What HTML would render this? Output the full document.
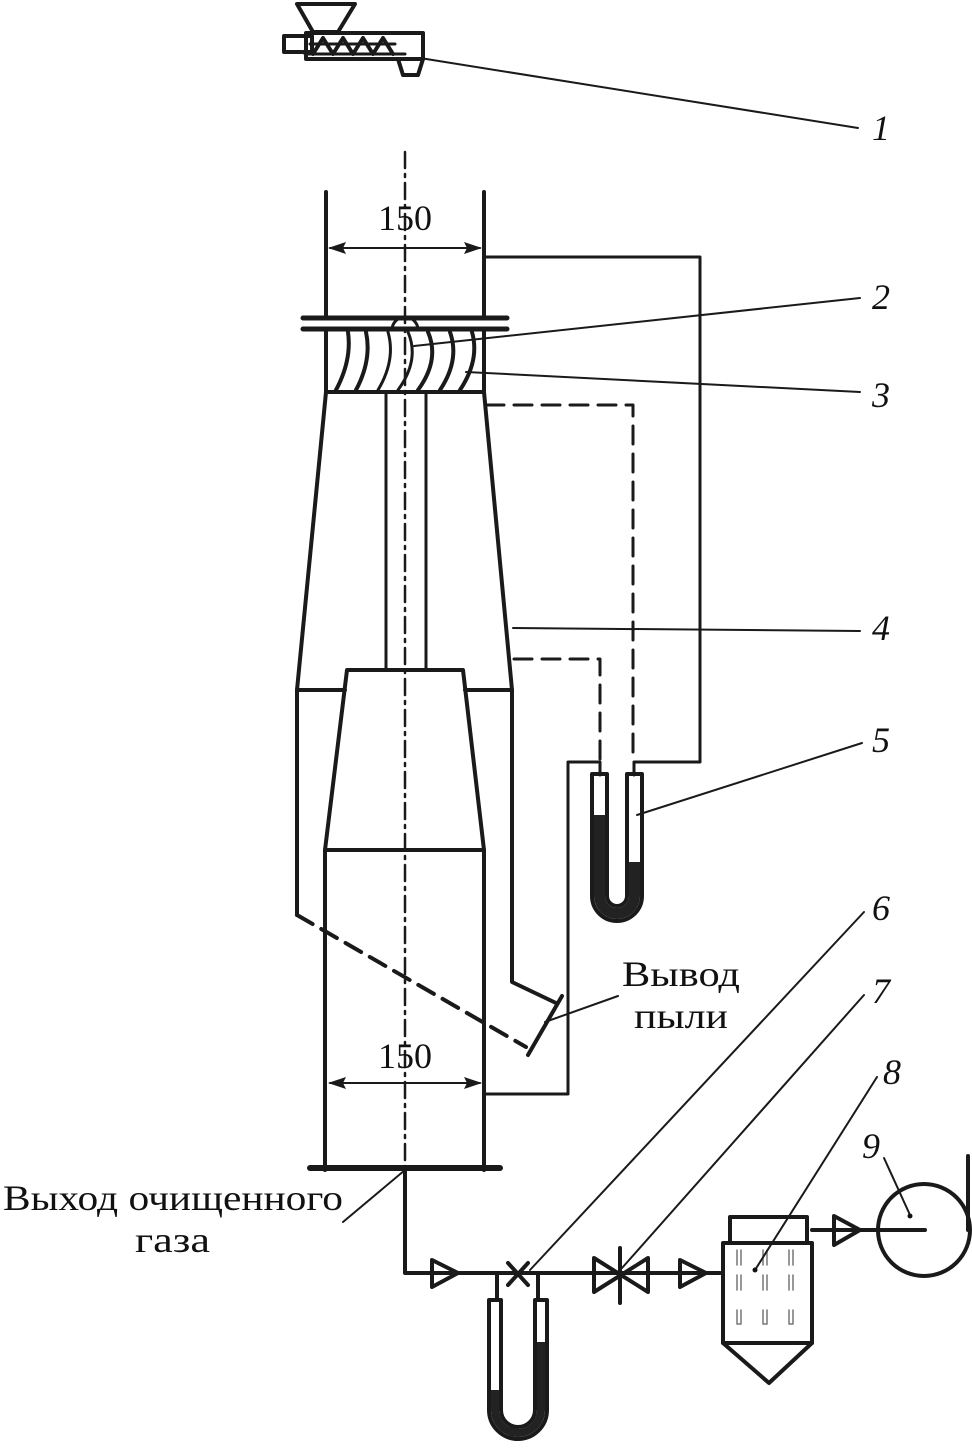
<!DOCTYPE html>
<html><head><meta charset="utf-8"><style>
html,body{margin:0;padding:0;background:#fff;}
svg{display:block;}
text{font-family:"Liberation Serif",serif;fill:#111;}
.n{font-style:italic;font-size:36px;}
.t{font-size:36px;}
</style></head><body>
<svg width="972" height="1454" viewBox="0 0 972 1454" xmlns="http://www.w3.org/2000/svg">
<g fill="none" stroke="#1a1a1a" stroke-linejoin="round" stroke-linecap="round">
<!-- feeder -->
<g stroke-width="4">
<path d="M297,4 L355,4 L338,32 L313,32 Z"/>
<rect x="284" y="36" width="28" height="16"/>
<rect x="306" y="33" width="117" height="26"/>
<path d="M398,59 L403,75 L418,75 L423,59"/>
<path d="M313,54 L323,38 L333,54 M333,54 L343,38 L353,54 M353,54 L363,38 L373,54 M373,54 L383,38 L393,54"/>
<path d="M305,54 L405,54 M310,44 L395,44" stroke-width="3"/>
</g>
<!-- centerline -->
<line x1="405" y1="152" x2="405" y2="1170" stroke-width="2.5" stroke-dasharray="16,6,3,6"/>
<!-- upper pipe -->
<g stroke-width="4">
<line x1="326" y1="192" x2="326" y2="318"/>
<line x1="484" y1="192" x2="484" y2="318"/>
<line x1="303" y1="318" x2="507" y2="318" stroke-width="5"/>
<line x1="303" y1="329" x2="507" y2="329" stroke-width="5"/>
<rect x="326" y="329" width="158" height="63"/>
<path d="M336,390 Q352,360 348,332"/>
<path d="M356,390 Q372,360 366,332"/>
<path d="M378,390 Q396,360 388,332" stroke-width="3"/>
<path d="M398,390 Q420,360 408,332" stroke-width="3"/>
<path d="M418,390 Q440,360 428,332"/>
<path d="M440,390 Q460,360 450,332"/>
<path d="M460,390 Q480,360 472,332"/>
<path d="M392,330 A13,13 0 0 1 418,330" stroke-width="3"/>
<path d="M326,392 L297,690 L297,915"/>
<path d="M484,392 L512,690 L512,982 L556,1003"/>
<line x1="297" y1="690" x2="345" y2="690"/>
<line x1="465" y1="690" x2="512" y2="690"/>
<line x1="386" y1="392" x2="386" y2="670" stroke-width="3"/>
<line x1="426" y1="392" x2="426" y2="670" stroke-width="3"/>
<path d="M325,1170 L325,850 L347,670 L463,670 L484,850 L484,1170"/>
<line x1="325" y1="850" x2="484" y2="850"/>
<line x1="562" y1="996" x2="528" y2="1055"/>
<line x1="297" y1="915" x2="526" y2="1047" stroke-dasharray="18,10"/>
<line x1="310" y1="1168" x2="500" y2="1168" stroke-width="6"/>
</g>
<g stroke-width="2">
<line x1="330" y1="248" x2="480" y2="248"/>
<line x1="330" y1="1083" x2="480" y2="1083"/>
</g>
<g fill="#1a1a1a" stroke="none">
<path d="M328,248 L346,242 L343,248 L346,254Z"/><path d="M482,248 L464,242 L467,248 L464,254Z"/>
<path d="M328,1083 L346,1077 L343,1083 L346,1089Z"/><path d="M482,1083 L464,1077 L467,1083 L464,1089Z"/>
</g>
<g stroke-width="3">
<path d="M486,257 L700,257 L700,762 L634,762 L634,775"/>
<path d="M486,1094 L568,1094 L568,762 L600,762 L600,775"/>
<path d="M486,405 L633,405 L633,762" stroke-dasharray="18,10"/>
<path d="M514,659 L600,659 L600,762" stroke-dasharray="18,10"/>
</g>
<!-- manometer 5 -->
<path d="M592,774 L592,896 A25,25 0 0 0 642,896 L642,774 L627,774 L627,896 A10,10 0 0 1 607,896 L607,774 Z" stroke-width="4"/>
<path d="M594,815 L594,896 A23,23 0 0 0 640,896 L640,862 L629,862 L629,896 A12,12 0 0 1 605,896 L605,815Z" fill="#222" stroke="none"/>
<!-- manometer bottom fill -->
<path d="M491,1390 L491,1410 A27,27 0 0 0 545,1410 L545,1342 L537,1342 L537,1410 A19,19 0 0 1 499,1410 L499,1390Z" fill="#222" stroke="none"/>
<g stroke-width="4">
<path d="M405,1170 L405,1273 L720,1273"/>
<path d="M432,1260 L458,1273 L432,1287 Z"/>
<path d="M508,1263 L528,1285 M528,1263 L508,1285"/>
<line x1="497" y1="1273" x2="497" y2="1300"/><line x1="538" y1="1273" x2="538" y2="1300"/>
<path d="M594,1258 L621,1275 L594,1292 Z"/>
<path d="M648,1258 L621,1275 L648,1292 Z"/>
<line x1="620" y1="1248" x2="620" y2="1303"/>
<path d="M680,1260 L706,1273 L680,1287 Z"/>
<path d="M489,1300 L489,1410 A29,29 0 0 0 547,1410 L547,1300 L535,1300 L535,1410 A17,17 0 0 1 501,1410 L501,1300 Z"/>
<rect x="723" y="1243" width="89" height="100"/>
<rect x="730" y="1217" width="77" height="26"/>
<path d="M723,1343 L769,1383 L812,1343"/>
<path d="M812,1230 L878,1230"/>
<path d="M834,1216 L860,1230 L834,1245 Z"/>
<circle cx="924" cy="1230" r="46"/>
<path d="M878,1230 L925,1230"/>
<path d="M968,1230 L968,1156"/>
</g>
<g stroke-width="1.5" stroke="#777">
<path d="M737,1250 V1265 M741,1250 V1265 M763,1250 V1265 M767,1250 V1265 M789,1250 V1265 M793,1250 V1265"/>
<path d="M737,1275 V1290 M741,1275 V1290 M763,1275 V1290 M767,1275 V1290 M789,1275 V1290 M793,1275 V1290"/>
<path d="M737,1310 V1324 H741 V1310 M763,1310 V1324 H767 V1310 M789,1310 V1324 H793 V1310"/>
</g>
<g stroke-width="2">
<line x1="420" y1="58" x2="858" y2="128"/>
<line x1="414" y1="346" x2="860" y2="298"/>
<line x1="466" y1="372" x2="860" y2="392"/>
<line x1="513" y1="628" x2="860" y2="631"/>
<line x1="637" y1="815" x2="862" y2="743"/>
<line x1="530" y1="1270" x2="864" y2="912"/>
<line x1="622" y1="1268" x2="864" y2="995"/>
<line x1="755" y1="1270" x2="877" y2="1077"/>
<line x1="910" y1="1215" x2="884" y2="1158"/>
<line x1="545" y1="1022" x2="618" y2="996"/>
<line x1="405" y1="1170" x2="343" y2="1222"/>
</g>
</g>
<circle cx="910" cy="1216" r="2.5" fill="#111"/>
<circle cx="755" cy="1270" r="2.5" fill="#111"/>
<text class="t" x="405" y="230" text-anchor="middle">150</text>
<text class="t" x="405" y="1068" text-anchor="middle">150</text>
<text class="n" x="872" y="140">1</text>
<text class="n" x="872" y="309">2</text>
<text class="n" x="872" y="407">3</text>
<text class="n" x="872" y="640">4</text>
<text class="n" x="872" y="752">5</text>
<text class="n" x="872" y="920">6</text>
<text class="n" x="872" y="1003">7</text>
<text class="n" x="883" y="1084">8</text>
<text class="n" x="862" y="1158">9</text>
<text class="t" x="622" y="986" textLength="118" lengthAdjust="spacingAndGlyphs">Вывод</text>
<text class="t" x="634" y="1028" textLength="94" lengthAdjust="spacingAndGlyphs">пыли</text>
<text class="t" x="3" y="1210" textLength="340" lengthAdjust="spacingAndGlyphs">Выход очищенного</text>
<text class="t" x="135" y="1252" textLength="75" lengthAdjust="spacingAndGlyphs">газа</text>
</svg>
</body></html>
